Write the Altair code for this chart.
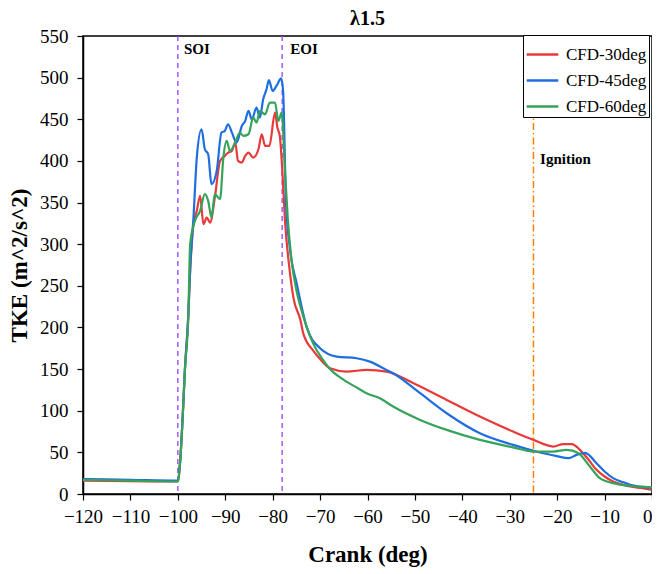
import altair as alt
import pandas as pd

# ---- data ----
red_x = [-120, -110, -100, -99.5, -99, -98.5, -97.8, -97.4, -96.7, -96.0, -95.3, -94.6, -93.9, -93.2,
         -92.2, -91.1, -90.1, -89.4, -88.6, -87.9, -87.3, -86.5, -85.8, -85.1, -84.1, -83.0, -82.3,
         -81.6, -80.7, -79.5, -79.0, -78.5, -78.0, -77.4, -76.4, -75.6, -74.2, -73.5, -71.4, -70.0,
         -67.9, -64.4, -60.2, -56.0, -50.3, -43.3, -36.3, -29.3, -25.0, -20.8, -18.7, -16.9, -15.2,
         -13.5, -11.7, -10, -8.2, -6, -4.6, -2, 0]
red_y = [16, 15.5, 15, 40, 90, 150, 212, 268, 324, 340, 358, 324, 332, 326,
         356, 400, 406, 410, 412, 422, 400, 398, 406, 410, 404, 414, 432,
         418, 418, 458, 440, 430, 392, 328, 268, 235, 210, 192, 172, 162,
         151, 147, 149, 147, 133, 113, 93, 75, 65, 57, 60, 60, 53,
         42, 29, 21, 15, 11, 9, 7, 5]

blue_x = [-120, -110, -100, -99.5, -99, -98.5, -97.8, -97.4, -96.7, -96.0, -95.0, -94.3, -93.6, -92.9,
          -91.8, -90.8, -90.1, -89.4, -88.6, -87.6, -86.5, -85.8, -85.1, -84.4, -83.4, -82.7, -82.0,
          -81.3, -80.8, -80.0, -79.2, -78.2, -77.8, -77.2, -76.3, -74.9, -72.8, -70.0, -66.5, -62.3,
          -59.5, -56.0, -54.6, -48.9, -43.3, -36.3, -29.3, -25.0, -20.1, -17.6, -15.9, -14.1, -11.7,
          -10, -8.2, -6, -4.6, -2, 0]
blue_y = [18, 17, 16, 40, 90, 150, 215, 270, 332, 404, 438, 414, 408, 372,
          388, 434, 436, 444, 434, 422, 442, 448, 460, 450, 464, 452, 474,
          486, 497, 484, 490, 499, 484, 352, 292, 252, 200, 175, 165, 163,
          159, 149, 145, 121, 97, 73, 59, 52, 45.5, 43, 47, 49.5, 37,
          27, 19, 14, 11, 8.5, 7]

green_x = [-120, -110, -100, -99.5, -99, -98.5, -97.8, -97.4, -96.4, -95.3, -94.3, -93.6, -92.9, -92.2,
           -91.1, -90.4, -89.7, -89.0, -87.9, -86.9, -86.2, -85.1, -84.1, -83.4, -82.7, -81.6, -80.6,
           -79.5, -78.8, -78.1, -77.4, -76.8, -76.0, -75.0, -74.2, -72.8, -71.4, -69.5, -68.2, -65.0,
           -62.0, -60.2, -57.4, -54.6, -48.9, -43.3, -36.3, -29.3, -25.0, -20.8, -18.0, -15.5, -13.1,
           -11.0, -8.2, -5, 0]
green_y = [17, 16, 15, 40, 90, 150, 212, 300, 328, 340, 360, 352, 332, 360,
           354, 404, 424, 412, 422, 434, 430, 432, 452, 446, 460, 456, 470,
           470, 448, 458, 388, 330, 280, 245, 226, 200, 180, 162, 152, 137,
           127, 121, 115, 105, 89, 77, 65, 56, 51, 51, 53, 49, 33,
           19, 13, 10, 8]

series_names = ["CFD-30deg", "CFD-45deg", "CFD-60deg"]
series_colors = ["#e8393b", "#1f6ee0", "#36a35a"]

x_ticks = list(range(-120, 1, 5))
y_ticks = list(range(0, 551, 25))

event_x = [-100, -78]
ignition_x = [-25]
annot_x = [-98.7, -76.3, -23.6]
annot_y = [534, 534, 402]
annot_text = ["SOI", "EOI", "Ignition"]

# ---- tables ----
rows = []
for name, xs, ys in zip(series_names, [red_x, blue_x, green_x], [red_y, blue_y, green_y]):
    for xv, yv in zip(xs, ys):
        rows.append({"crank": xv, "tke": yv, "series": name})
df = pd.DataFrame(rows)
ev_df = pd.DataFrame({"x": event_x})
ig_df = pd.DataFrame({"x": ignition_x})
an_df = pd.DataFrame({"x": annot_x, "y": annot_y, "t": annot_text})

FONT = "Liberation Serif, Times New Roman, Times, Tinos, Nimbus Roman, FreeSerif, serif"
LFONT = "Times New Roman, Liberation Serif, Times, serif"

x_scale = alt.Scale(domain=[-120, 0], nice=False, zero=False)
y_scale = alt.Scale(domain=[0, 550], nice=False)

x_axis = alt.Axis(
    title="Crank (deg)", values=x_ticks, grid=False,
    labelExpr="datum.value % 10 === 0 ? datum.label : ''",
    tickSize={"condition": {"test": "datum.value % 10 !== 0", "value": 3}, "value": 6},
    labelAlign={"condition": {"test": "datum.value === 0", "value": "right"}, "value": "center"},
    labelFont=LFONT, labelFontSize=19, labelColor="black",
    labelOverlap=False, labelPadding=7, titlePadding=17,
)
y_axis = alt.Axis(
    title="TKE (m^2/s^2)", values=y_ticks, grid=False,
    labelExpr="datum.value % 50 === 0 ? datum.label : ''",
    tickSize={"condition": {"test": "datum.value % 50 !== 0", "value": 3}, "value": 6},
    labelFont=LFONT, labelFontSize=19, labelColor="black",
    labelOverlap=False, labelPadding=9, titlePadding=8,
)

lines = alt.Chart(df).mark_line(strokeWidth=2.2, interpolate="monotone").encode(
    x=alt.X("crank:Q", scale=x_scale, axis=x_axis),
    y=alt.Y("tke:Q", scale=y_scale, axis=y_axis),
    color=alt.Color(
        "series:N",
        scale=alt.Scale(domain=series_names, range=series_colors),
        legend=alt.Legend(
            title=None, orient="none", legendX=440, legendY=-1,
            symbolType="stroke", symbolSize=1000, symbolStrokeWidth=2.5,
            labelFont=FONT, labelFontSize=17, labelColor="black", labelOffset=6,
            rowPadding=0, padding=2, strokeColor="black", fillColor="white",
        ),
    ),
)

events = alt.Chart(ev_df).mark_rule(color="#a24bff", strokeDash=[5, 4], strokeWidth=1.4).encode(
    x=alt.X("x:Q", scale=x_scale)
)
ignition = alt.Chart(ig_df).mark_rule(color="#ff8000", strokeDash=[7, 3, 1.5, 3], strokeWidth=1.5).encode(
    x=alt.X("x:Q", scale=x_scale)
)
annots = alt.Chart(an_df).mark_text(
    align="left", baseline="middle", font=FONT, fontSize=15, fontWeight="bold", color="black"
).encode(
    x=alt.X("x:Q", scale=x_scale),
    y=alt.Y("y:Q", scale=y_scale),
    text="t:N",
)

chart = alt.layer(events, ignition, lines, annots).properties(
    width=569, height=458,
    title=alt.TitleParams("λ1.5", font=FONT, fontSize=20, fontWeight="bold", color="black",
                          offset=-2, frame="group"),
    autosize=alt.AutoSizeParams(type="none"),
    padding={"left": 75, "top": 28, "right": 0, "bottom": 76},
).configure(
    style={"guide-label": {"font": LFONT, "fill": "black"}},
    view=alt.ViewConfig(stroke="black", strokeWidth=1.5),
    axis=alt.AxisConfig(
        labelFont=LFONT, labelFontSize=19, labelColor="black",
        titleFont=FONT, titleFontSize=23, titleFontWeight="bold", titleColor="black",
        domainColor="black", domainWidth=1.5, tickColor="black", tickWidth=1.2,
    ),
)

chart.save("out.html", embed_options={"renderer": "svg", "actions": False})
